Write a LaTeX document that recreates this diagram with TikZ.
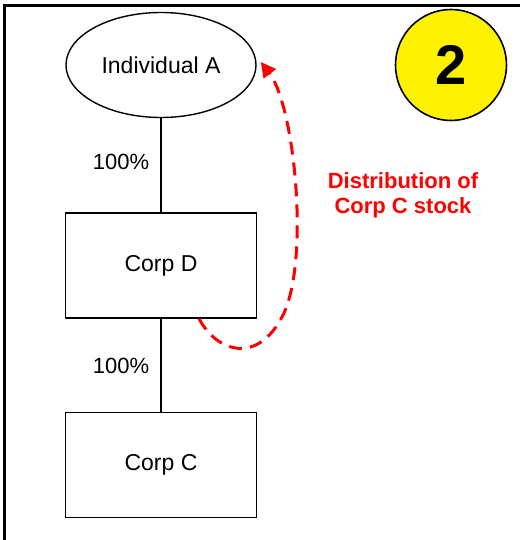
\documentclass[tikz,border=0pt]{standalone}
\usepackage{fontspec}
\setmainfont{Liberation Sans}
\usepackage{tikz}
\usetikzlibrary{positioning,shapes.geometric,arrows.meta}

\begin{document}
\begin{tikzpicture}[x=1pt,y=-1pt,
				ovalnode/.style={ellipse, draw=black, line width=1.4pt, inner sep=0pt, minimum width=190pt, minimum height=105pt, font=\fontsize{23}{26}\selectfont},
				corpnode/.style={rectangle, draw=black, line width=1.4pt, minimum width=191pt, minimum height=105pt, font=\fontsize{23}{26}\selectfont},
				pctnode/.style={font=\fontsize{22}{26}\selectfont},
				stepnode/.style={circle, draw=black, fill=yellow, line width=1.6pt, minimum size=111pt, inner sep=0pt, font=\fontsize{56}{60}\selectfont\bfseries},
				distnode/.style={text=red, align=center, font=\fontsize{22}{25}\selectfont\bfseries},
				distline/.style={draw=red, line width=3pt, dash pattern=on 13pt off 8pt, -{Triangle[length=15pt,width=15pt]}},
				node distance = 94pt,
				]
				\useasboundingbox (0,0) rectangle (520,540);
				%Frame
				\draw[line width=3pt] (4.5,540) -- (4.5,5.5) -- (520,5.5);
				
				%Nodes
				\node[ovalnode](indA) at (161,65){Individual A};
				\node[corpnode](corpD)[below=of indA]{Corp D};
				\node[corpnode](corpC)[below=93pt of corpD]{Corp C};
				\node[pctnode](pctD) at (121,162){100\%};
				\node[pctnode](pctC) at (121,366){100\%};
				\node[stepnode](step) at (451,65){2};
				\node[distnode](dist) at (403,195){Distribution of\\Corp C stock};
				\coordinate (distStart) at ([xshift=38pt]corpD.south);
				\coordinate (distEnd) at ([xshift=4pt,yshift=3pt]indA.east);
				
				%Lines
				\draw[line width=1.4pt] (indA.south) -- (corpD.north);
				\draw[line width=1.4pt] (corpD.south) -- (corpC.north);
				\draw[distline] (distStart) .. controls +(18,34) and +(-25,50) .. (283,315) .. controls +(27,-54) and +(34,44) .. (distEnd);
				
\end{tikzpicture}
\end{document}
